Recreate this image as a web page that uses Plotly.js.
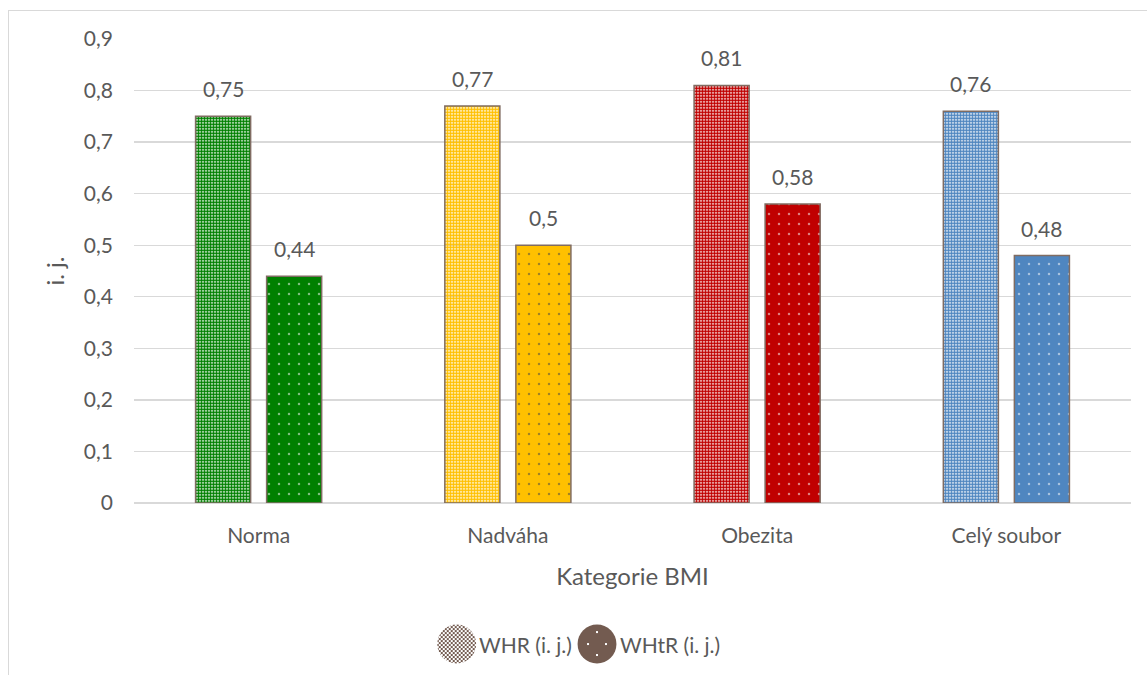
<!DOCTYPE html>
<html>
<head>
<meta charset="utf-8">
<script src="https://cdn.plot.ly/plotly-3.0.1.min.js"></script>
<style>
  html, body { margin: 0; padding: 0; background: #ffffff; overflow: hidden; }
  #wrap { position: relative; width: 1147px; height: 675px; }
  #chart { position: absolute; left: 0; top: 0; width: 1147px; height: 675px; }
  #frame { position: absolute; left: 8px; top: 10px; width: 1400px; height: 900px;
           border: 1px solid #d9d9d9; pointer-events: none; box-sizing: border-box; }
</style>
</head>
<body>
<div id="wrap">
  <div id="chart"></div>
  <div id="frame"></div>
</div>
<script>
// BMI categories and index values (i. j.)
const categories = ['Norma', 'Nadváha', 'Obezita', 'Celý soubor'];
const whrValues  = [0.75, 0.77, 0.81, 0.76];
const whtrValues = [0.44, 0.50, 0.58, 0.48];
const seriesNames = ['WHR (i. j.)', 'WHtR (i. j.)'];
const categoryColors = ['#008000', '#FFC000', '#C00000', '#4F86C0'];
const yTickValues = [0, 0.1, 0.2, 0.3, 0.4, 0.5, 0.6, 0.7, 0.8, 0.9];

const textColor = '#595959';
const outline = 'rgb(128,108,98)';
const legendBrown = '#735b50';
const fontFamily = 'Lato, "Open Sans", sans-serif';

const fmt = v => String(v).replace('.', ',');

const whrTrace = {
  type: 'bar',
  name: seriesNames[0],
  x: categories,
  y: whrValues,
  marker: {
    color: categoryColors,
    line: { color: outline, width: 1.5 },
    pattern: {
      shape: '.',
      fillmode: 'replace',
      fgcolor: categoryColors,
      bgcolor: '#ffffff',
      size: 3,
      solidity: 0.72
    }
  },
  showlegend: false,
  hoverinfo: 'skip'
};

const whtrTrace = {
  type: 'bar',
  name: seriesNames[1],
  x: categories,
  y: whtrValues,
  marker: {
    color: categoryColors,
    line: { color: outline, width: 1.5 },
    pattern: {
      shape: '.',
      fillmode: 'overlay',
      fgcolor: '#ffffff',
      bgcolor: categoryColors,
      size: 10,
      solidity: 0.05
    }
  },
  showlegend: false,
  hoverinfo: 'skip'
};

// value labels above each bar
const barOffset = 35.5;
function valueLabels(values, shift) {
  return values.map((v, i) => ({
    x: categories[i], y: v, xref: 'x', yref: 'y',
    text: fmt(v), showarrow: false,
    xanchor: 'center', yanchor: 'bottom', xshift: shift, yshift: 13,
    font: { family: fontFamily, size: 21, color: textColor }
  }));
}

// legend swatches: patterned circles
function svgUri(body) {
  const svg = "<svg xmlns='http://www.w3.org/2000/svg' width='40' height='40'>" + body + "</svg>";
  return 'data:image/svg+xml;charset=utf-8,' + encodeURIComponent(svg);
}
const checkerSwatch = svgUri(
  "<defs><pattern id='p' width='4' height='4' patternUnits='userSpaceOnUse'>" +
  "<rect width='4' height='4' fill='#ffffff'/>" +
  "<rect width='2' height='2' fill='" + legendBrown + "'/>" +
  "<rect x='2' y='2' width='2' height='2' fill='" + legendBrown + "'/></pattern></defs>" +
  "<circle cx='20' cy='20' r='19.5' fill='url(#p)'/>"
);
const dotSwatch = svgUri(
  "<circle cx='20' cy='20' r='19.5' fill='" + legendBrown + "'/>" +
  "<g fill='#ffffff'><rect x='19' y='7' width='2' height='2'/><rect x='10' y='19' width='2' height='2'/>" +
  "<rect x='28' y='19' width='2' height='2'/><rect x='19' y='30' width='2' height='2'/></g>"
);

const legendY = -0.304;
const legendFont = { family: fontFamily, size: 21, color: textColor };
const layout = {
  width: 1147,
  height: 675,
  margin: { l: 134, r: 16, t: 39, b: 172 },
  paper_bgcolor: 'rgba(0,0,0,0)',
  plot_bgcolor: '#ffffff',
  separators: ', ',
  barmode: 'group',
  bargap: 0.43,
  bargroupgap: 0.225,
  font: { family: fontFamily, color: textColor, size: 21 },
  xaxis: {
    type: 'category',
    showgrid: false,
    showline: false,
    ticks: '',
    tickfont: { family: fontFamily, size: 21, color: textColor },
    ticklabelstandoff: 18,
    title: { text: 'Kategorie BMI', font: { family: fontFamily, size: 24, color: textColor }, standoff: 22 }
  },
  yaxis: {
    range: [0, 0.9],
    tickvals: yTickValues,
    ticktext: yTickValues.map(fmt),
    showgrid: true,
    gridcolor: '#d9d9d9',
    gridwidth: 1.3,
    zeroline: true,
    zerolinecolor: '#d9d9d9',
    zerolinewidth: 1.3,
    showline: false,
    ticks: '',
    tickfont: { family: fontFamily, size: 21, color: textColor },
    ticklabelstandoff: 20,
    title: { text: 'i. j.', font: { family: fontFamily, size: 24, color: textColor }, standoff: 12 }
  },
  images: [
    { source: checkerSwatch, xref: 'paper', yref: 'paper', x: 0.3237, y: legendY,
      sizex: 0.04, sizey: 0.086, xanchor: 'center', yanchor: 'middle', sizing: 'contain', layer: 'above' },
    { source: dotSwatch, xref: 'paper', yref: 'paper', x: 0.4644, y: legendY,
      sizex: 0.04, sizey: 0.086, xanchor: 'center', yanchor: 'middle', sizing: 'contain', layer: 'above' }
  ],
  annotations: [
    ...valueLabels(whrValues, -barOffset),
    ...valueLabels(whtrValues, barOffset),
    { text: seriesNames[0], xref: 'paper', yref: 'paper', x: 0.3445, y: legendY,
      xanchor: 'left', yanchor: 'middle', showarrow: false, font: legendFont },
    { text: seriesNames[1], xref: 'paper', yref: 'paper', x: 0.4855, y: legendY,
      xanchor: 'left', yanchor: 'middle', showarrow: false, font: legendFont }
  ]
};

Plotly.newPlot('chart', [whrTrace, whtrTrace], layout, { staticPlot: true, displayModeBar: false });
</script>
</body>
</html>
